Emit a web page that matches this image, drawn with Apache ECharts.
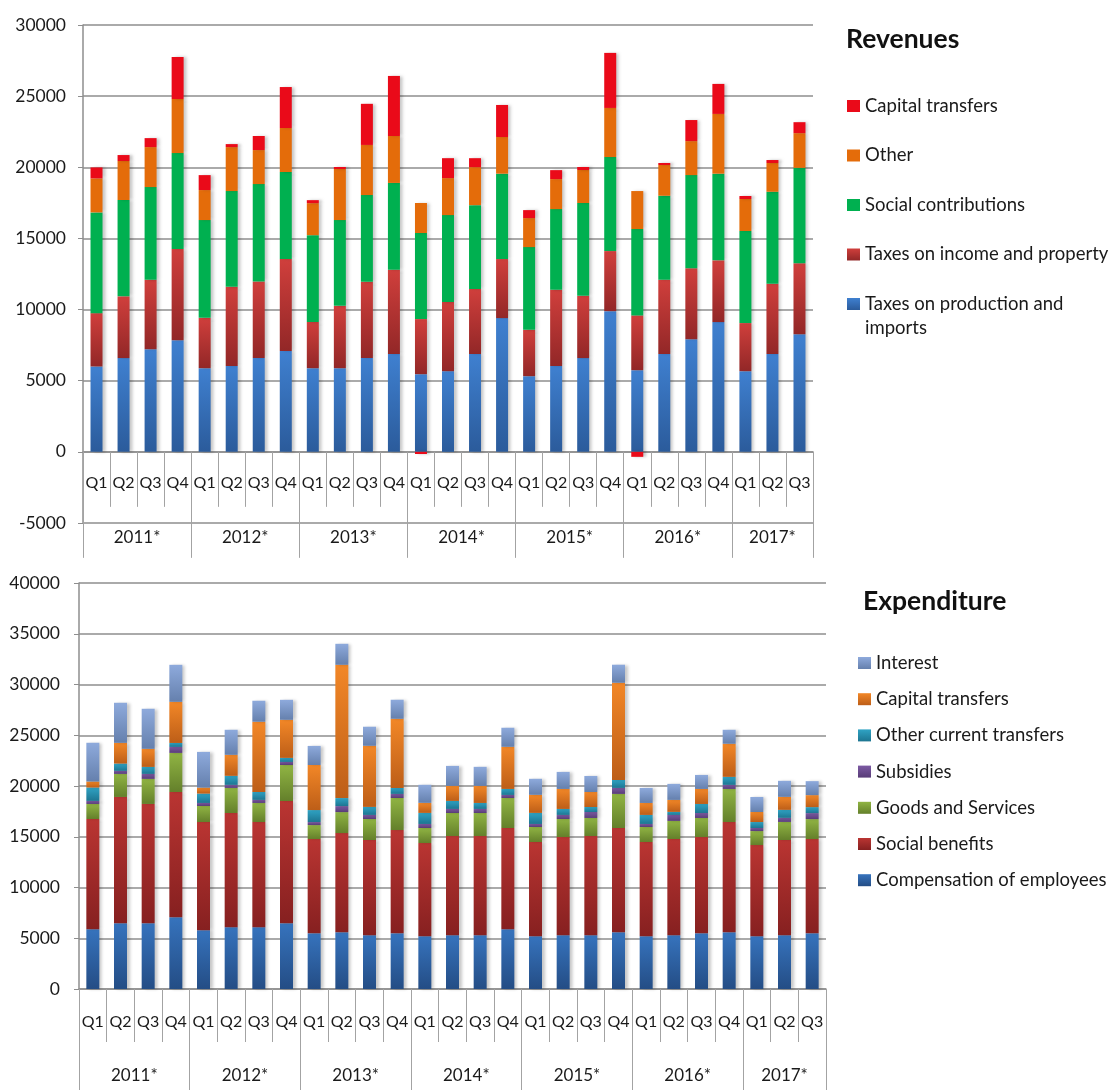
<!DOCTYPE html>
<html>
<head>
<meta charset="utf-8">
<title>Revenues and Expenditure</title>
<script src="https://cdn.jsdelivr.net/npm/echarts@6/dist/echarts.min.js"></script>
<style>
html, body { margin: 0; padding: 0; background: #fff; }
#revenues { position: absolute; left: 0; top: 0; width: 1115px; height: 570px; }
#expenditure { position: absolute; left: 0; top: 570px; width: 1115px; height: 520px; }
</style>
</head>
<body>
<div id="revenues"></div>
<div id="expenditure"></div>
<script>
// categories
var quarters = ['Q1','Q2','Q3','Q4','Q1','Q2','Q3','Q4','Q1','Q2','Q3','Q4','Q1','Q2','Q3','Q4',
                'Q1','Q2','Q3','Q4','Q1','Q2','Q3','Q4','Q1','Q2','Q3'];
var years = ['2011*','2012*','2013*','2014*','2015*','2016*','2017*'];
var yearSize = [4, 4, 4, 4, 4, 4, 3];

// revenues
var revProduction = [6000,6590,7220,7850,5880,6030,6590,7080,5880,5880,6590,6870,5460,5670,6870,9400,5320,6030,6590,9890,5740,6870,7920,9120,5670,6870,8270];
var revIncome     = [3750,4340,4870,6400,3540,5570,5390,6470,3250,4380,5360,5930,3870,4870,4570,4150,3260,5360,4380,4220,3850,5220,4990,4340,3380,4940,4990];
var revSocial     = [7080,6770,6520,6750,6870,6730,6840,6120,6100,6030,6100,6100,6050,6100,5900,6000,5810,5670,6520,6610,6070,5910,6540,6090,6470,6470,6700];
var revOther      = [2390,2740,2810,3800,2110,3090,2390,3090,2250,3590,3520,3300,2110,2600,2670,2580,2040,2110,2320,3450,2670,2160,2390,4200,2250,2020,2440];
var revCapital    = [770,420,630,2950,1050,210,990,2880,210,140,2890,4220,-150,1400,630,2250,560,630,210,3870,-350,140,1480,2110,210,210,770];

// expenditure
var expCompensation = [5890,6480,6480,7070,5790,6090,6090,6480,5490,5590,5300,5490,5200,5300,5300,5890,5200,5300,5300,5590,5200,5300,5490,5590,5200,5300,5490];
var expSocial       = [10860,12440,11750,12340,10660,11250,10360,12040,9280,9770,9380,10170,9180,9770,9770,9970,9280,9670,9770,10270,9280,9480,9480,10860,8980,9380,9280];
var expGoods        = [1480,2270,2470,3850,1580,2470,1880,3550,1380,2070,2070,3160,1480,2270,2270,2960,1480,1780,1780,3360,1480,1780,1880,3260,1380,1780,1970];
var expSubsidies    = [300,300,490,590,300,300,300,300,300,590,400,400,400,400,400,300,300,400,590,590,300,590,490,400,300,400,590];
var expOtherCurrent = [1320,720,690,390,920,890,790,400,1180,790,790,590,1090,790,590,590,1090,590,490,790,890,300,890,790,590,790,590];
var expCapital      = [590,2040,1780,4050,590,2070,6910,3750,4440,13130,6020,6810,990,1480,1680,4150,1780,1970,1480,9570,1180,1180,1480,3260,990,1280,1180];
var expInterest     = [3820,3950,3950,3650,3520,2470,2070,1970,1880,2070,1880,1880,1780,1970,1880,1880,1580,1680,1580,1780,1480,1580,1380,1380,1480,1580,1380];

var FONT = 'Lato, "Open Sans", sans-serif';
var GRID_COLOR = '#8e8e8e';
var TICK_COLOR = '#a3a3a3';
var TEXT_COLOR = '#1a1a1a';

// year row: half-quarter slots, labels in the middle of each year, ticks at year edges
var yearSlots = [], yearEdges = {};
(function() {
    var i, n = 0;
    for (i = 0; i <= quarters.length * 2; i++) yearSlots.push('');
    for (i = 0; i < years.length; i++) {
        yearEdges[n * 2] = true;
        yearSlots[n * 2 + yearSize[i]] = years[i];
        n += yearSize[i];
    }
    yearEdges[n * 2] = true;
})();

function grad(top, bottom) {
    return new echarts.graphic.LinearGradient(0, 0, 0, 1, [
        { offset: 0, color: top },
        { offset: 1, color: bottom }
    ]);
}

function bar(name, data, color, width) {
    return {
        name: name,
        type: 'bar',
        stack: 'total',
        barWidth: width,
        data: data,
        itemStyle: {
            color: color,
            shadowColor: 'rgba(0,0,0,0.22)',
            shadowBlur: 3,
            shadowOffsetX: 3
        }
    };
}

// two x axes: quarters and the year row; offset lifts them to the zero line
function xAxes(offset, qMargin, qTick, yMargin, yTick) {
    return [{
        type: 'category',
        data: quarters,
        position: 'bottom',
        offset: offset,
        axisLine: { show: true, onZero: false, lineStyle: { color: GRID_COLOR, width: 1.5 } },
        axisTick: { show: true, interval: 0, length: qTick, lineStyle: { color: TICK_COLOR } },
        axisLabel: { show: true, interval: 0, margin: qMargin, fontSize: 16, color: TEXT_COLOR, fontFamily: FONT }
    }, {
        type: 'category',
        boundaryGap: false,
        data: yearSlots,
        position: 'bottom',
        offset: offset,
        axisLine: { show: false, onZero: false },
        axisTick: {
            show: true,
            length: yTick,
            interval: function(idx) { return !!yearEdges[idx]; },
            lineStyle: { color: TICK_COLOR }
        },
        axisLabel: {
            show: true,
            margin: yMargin, fontSize: 17, color: TEXT_COLOR, fontFamily: FONT,
            interval: function(idx, val) { return val !== ''; }
        }
    }];
}

function yAxis(min, max, margin) {
    return {
        type: 'value',
        min: min,
        max: max,
        interval: 5000,
        axisLine: { show: true, lineStyle: { color: GRID_COLOR, width: 1.5 } },
        axisTick: { show: true, length: 5, lineStyle: { color: GRID_COLOR } },
        axisLabel: {
            margin: margin, fontSize: 17.5, color: TEXT_COLOR, fontFamily: FONT,
            formatter: function(v) { return String(v); }
        },
        splitLine: { show: true, showMinLine: true, showMaxLine: true, lineStyle: { color: GRID_COLOR, width: 1.5 } }
    };
}

function legend(names, left, top, gap, formatter) {
    var l = {
        orient: 'vertical', left: left, top: top, padding: 0,
        itemWidth: 13, itemHeight: 12, itemGap: gap,
        icon: 'rect',
        textStyle: { fontSize: 18.5, lineHeight: 24, color: TEXT_COLOR, fontFamily: FONT },
        data: names
    };
    if (formatter) l.formatter = formatter;
    return l;
}

// Revenues
var REV_MIN = -5000, REV_MAX = 30000;
var REV_GRID = { left: 83, right: 302, top: 25, bottom: 47 };
var revZeroOffset = -(570 - REV_GRID.top - REV_GRID.bottom) * (0 - REV_MIN) / (REV_MAX - REV_MIN);

var revChart = echarts.init(document.getElementById('revenues'));
revChart.setOption({
    animation: false,
    textStyle: { fontFamily: FONT },
    title: {
        text: 'Revenues', left: 846, top: 26, padding: 0,
        textStyle: { fontSize: 26.5, fontWeight: 'bold', color: '#111', fontFamily: FONT }
    },
    legend: [
        legend(['Capital transfers', 'Other', 'Social contributions', 'Taxes on income and property'], 847, 94, 25.5),
        // wrapped item: blank first line keeps the icon beside the first text line
        legend(['Taxes on production and imports'], 847, 268, 0, function() {
            return '\nTaxes on production and\nimports';
        })
    ],
    grid: { left: REV_GRID.left, right: REV_GRID.right, top: REV_GRID.top, bottom: REV_GRID.bottom, containLabel: false, outerBoundsMode: 'none' },
    xAxis: xAxes(revZeroOffset, 23, 55, 77.5, 106),
    yAxis: yAxis(REV_MIN, REV_MAX, 17),
    series: [
        bar('Taxes on production and imports', revProduction, grad('#3f80d0', '#2b5b9b'), 12),
        bar('Taxes on income and property', revIncome, grad('#d03f3c', '#922727'), 12),
        bar('Social contributions', revSocial, '#00b050', 12),
        bar('Other', revOther, '#e46c0a', 12),
        bar('Capital transfers', revCapital, '#ea0a19', 12)
    ]
});

// Expenditure
var expChart = echarts.init(document.getElementById('expenditure'));
expChart.setOption({
    animation: false,
    textStyle: { fontFamily: FONT },
    title: {
        text: 'Expenditure', left: 863, top: 18, padding: 0,
        textStyle: { fontSize: 26.5, fontWeight: 'bold', color: '#111', fontFamily: FONT }
    },
    legend: legend(['Interest', 'Capital transfers', 'Other current transfers', 'Subsidies',
                    'Goods and Services', 'Social benefits', 'Compensation of employees'], 858, 81, 12.2),
    grid: { left: 79, right: 289, top: 13, bottom: 101, containLabel: false, outerBoundsMode: 'none' },
    xAxis: xAxes(0, 24.5, 53, 78.5, 110),
    yAxis: yAxis(0, 40000, 19),
    series: [
        bar('Compensation of employees', expCompensation, grad('#3673bd', '#244d85'), 13),
        bar('Social benefits', expSocial, grad('#ba3532', '#862020'), 13),
        bar('Goods and Services', expGoods, grad('#90b443', '#64802b'), 13),
        bar('Subsidies', expSubsidies, grad('#7c5aa3', '#583c77'), 13),
        bar('Other current transfers', expOtherCurrent, grad('#2fa3c4', '#1d7591'), 13),
        bar('Capital transfers', expCapital, grad('#f28727', '#bd5e18'), 13),
        bar('Interest', expInterest, grad('#8eaadc', '#6580ad'), 13)
    ]
});
</script>
</body>
</html>
